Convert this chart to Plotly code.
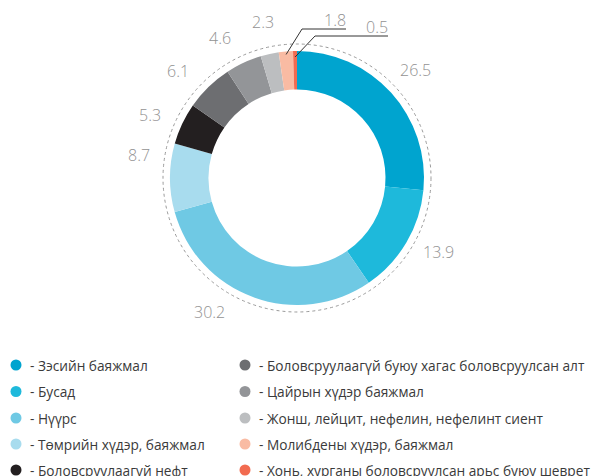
import math
import plotly.graph_objects as go

# ---- data ----
labels = [
    "Зэсийн баяжмал",
    "Бусад",
    "Нүүрс",
    "Төмрийн хүдэр, баяжмал",
    "Боловсруулаагүй нефт",
    "Боловсруулаагүй буюу хагас боловсруулсан алт",
    "Цайрын хүдэр баяжмал",
    "Жонш, лейцит, нефелин, нефелинт сиент",
    "Молибдены хүдэр, баяжмал",
    "Хонь, хурганы боловсруулсан арьс буюу шеврет",
]
values = [26.5, 13.9, 30.2, 8.7, 5.3, 6.1, 4.6, 2.3, 1.8, 0.5]
value_text = ["26.5", "13.9", "30.2", "8.7", "5.3", "6.1", "4.6", "2.3", "1.8", "0.5"]

# ---- style ----
colors = ["#00A4CF", "#1EB9DB", "#6FC9E4", "#A8DCEE", "#231F20",
          "#6D6E71", "#939598", "#BCBEC0", "#F9BBA3", "#F26B50"]
OFF = 8                      # page body margin in the browser
W, H = 600 - OFF, 476 - OFF  # figure size so that page pixels == data units
CX, CY, R = 297, 178, 127
HOLE = 0.697
LABEL_R = 160
angle_tweak = [0, -3, 13, 8, -2, -4, -4, 0, None, None]  # None -> leader line label
num_font = dict(family="Open Sans", size=16, color="#929292", weight=300)
leg_font = dict(family="Open Sans", size=13.7, color="#3A3A3A")

fig = go.Figure()

fig.add_trace(go.Pie(
    labels=labels, values=values, sort=False, direction="clockwise",
    rotation=0, hole=HOLE, marker=dict(colors=colors, line=dict(width=0)),
    textinfo="none", hoverinfo="label+value", showlegend=False,
    domain=dict(x=[(CX - R - OFF) / W, (CX + R - OFF) / W],
                y=[1 - (CY + R - OFF) / H, 1 - (CY - R - OFF) / H]),
))

total = sum(values)
cum = 0
mid_angles = []
for v in values:
    mid_angles.append((cum + v / 2) / total * 360)
    cum += v

annotations = []
shapes = []
# dotted outer circle
shapes.append(dict(type="circle", xref="x", yref="y", x0=CX - 134, x1=CX + 134,
                   y0=CY - 134, y1=CY + 134, line=dict(color="#9A9A9A", width=1, dash="dot")))

def polar(ang, r):
    a = math.radians(ang)
    return CX + r * math.sin(a), CY - r * math.cos(a)

for i, t in enumerate(value_text):
    if angle_tweak[i] is not None:
        x, y = polar(mid_angles[i] + angle_tweak[i], LABEL_R)
        annotations.append(dict(x=x, y=y, xref="x", yref="y", text=t, showarrow=False,
                                font=num_font, xanchor="center", yanchor="middle"))

# leader-line labels for the two smallest slices
leaders = [(8, 124, (302, 29), 346), (9, 121, (315, 36), 388)]
for idx, r0, elbow, xend in leaders:
    sx, sy = polar(mid_angles[idx], r0)
    shapes.append(dict(type="line", xref="x", yref="y", x0=sx, y0=sy, x1=elbow[0], y1=elbow[1],
                       line=dict(color="#333333", width=1)))
    shapes.append(dict(type="line", xref="x", yref="y", x0=elbow[0], y0=elbow[1], x1=xend, y1=elbow[1],
                       line=dict(color="#333333", width=1)))
    annotations.append(dict(x=xend - 11, y=elbow[1] - 9, xref="x", yref="y", text=value_text[idx],
                            showarrow=False, font=num_font, xanchor="center", yanchor="middle",
                            borderpad=0))

# legend (two columns, five rows)
col_x = [16, 245]
row_y = [365, 391.5, 418, 444, 470]
for i, lab in enumerate(labels):
    c, rr = divmod(i, 5)
    fig.add_trace(go.Scatter(x=[col_x[c]], y=[row_y[rr]], mode="markers",
                             marker=dict(size=11, color=colors[i]), showlegend=False,
                             hoverinfo="skip"))
    annotations.append(dict(x=col_x[c] + 12, y=row_y[rr], xref="x", yref="y",
                            text="- " + lab, showarrow=False, font=leg_font,
                            xanchor="left", yanchor="middle"))

fig.update_layout(
    width=W, height=H, margin=dict(l=0, r=0, t=0, b=0),
    paper_bgcolor="white", plot_bgcolor="rgba(0,0,0,0)",
    xaxis=dict(range=[OFF, W + OFF], visible=False, fixedrange=True),
    yaxis=dict(range=[H + OFF, OFF], visible=False, fixedrange=True),
    annotations=annotations, shapes=shapes, showlegend=False,
)

fig.write_html("out.html")
